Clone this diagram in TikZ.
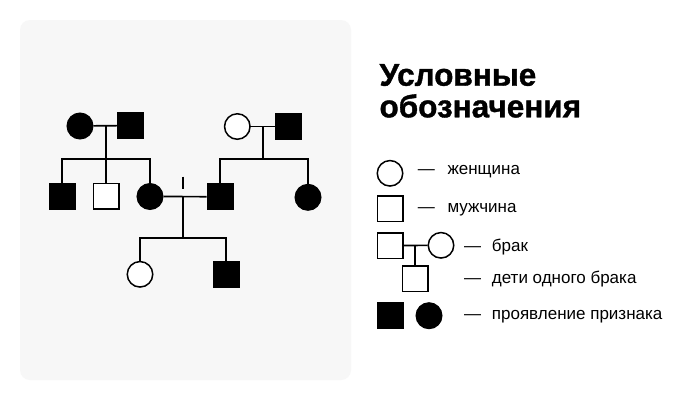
\documentclass[tikz,border=0pt]{standalone}
\usepackage{fontspec}
\setmainfont{Liberation Sans}
\newfontfamily\heavyfont[FakeBold=1.2]{Liberation Sans Bold}
\begin{document}
\begin{tikzpicture}[x=1pt,y=-1pt,
  ln/.style={line width=1.7pt,black},
  fem/.style={circle,draw=black,line width=1.5pt,fill=white,minimum size=25.5pt,inner sep=0pt},
  mal/.style={rectangle,draw=black,line width=1.5pt,fill=white,minimum size=25.5pt,inner sep=0pt},
  aff/.style={fill=black},
  lbl/.style={anchor=base west,inner sep=0pt,font=\fontsize{17}{20}\selectfont},
  ttl/.style={anchor=base west,inner sep=0pt,font=\fontsize{31.5}{32}\heavyfont}]
\useasboundingbox (0,0) rectangle (700,400);
\fill[white] (0,0) rectangle (700,400);
\fill[fill={rgb,255:red,247;green,247;blue,247},rounded corners=10pt] (20,20) rectangle (351,380);

% generation 1
\node[fem,aff] (f1) at (80,126) {};
\node[mal,aff] (m1) at (130.7,125.5) {};
\node[fem] (f2) at (237.3,126.5) {};
\node[mal,aff] (m2) at (288.5,126.5) {};
\coordinate (c1) at (106,126);
\coordinate (c2) at (263.3,126.5);
\coordinate (s1) at (106,159);
\coordinate (s2) at (263.3,159.3);

% generation 2
\node[mal,aff] (a1) at (62.3,196.3) {};
\node[mal] (a2) at (106,196.3) {};
\node[fem,aff] (a3) at (150,196.5) {};
\node[mal,aff] (b1) at (220,196.7) {};
\node[fem,aff] (b2) at (308,197.3) {};
\coordinate (c3) at (183.3,196.5);
\coordinate (t1) at (183.3,176.7);
\coordinate (t2) at (183.3,189.3);
\coordinate (s3) at (183.3,238);

% generation 3
\node[fem] (g1) at (140,274.3) {};
\node[mal,aff] (g2) at (226,274.3) {};

\draw[ln] (f1) -- (m1);
\draw[ln] (c1) -- (s1);
\draw[ln] (a1.north) |- (s1) -| (a3.north);
\draw[ln] (s1) -- (a2.north);
\draw[ln] (f2) -- (m2);
\draw[ln] (c2) -- (s2);
\draw[ln] (b1.north) |- (s2) -| (b2.north);
\draw[ln] (a3) -- (b1);
\draw[ln] (t1) -- (t2);
\draw[ln] (c3) -- (s3);
\draw[ln] (g1.north) |- (s3) -| (g2.north);

% legend
\node[ttl] (title1) at (379.3,85.7) {Условные};
\node[ttl] (title2) at (379.3,117.3) {обозначения};

\node[fem] (lf) at (390,173.3) {};
\node[lbl] (lt1) at (417.7,174.3) {—\hspace{12.6pt}женщина};
\node[mal] (lm) at (390,208.7) {};
\node[lbl] (lt2) at (417.7,212.5) {—\hspace{12.6pt}мужчина};
\node[mal] (lm2) at (390,245.5) {};
\node[fem] (lf2) at (441,245.3) {};
\coordinate (lc) at (415.3,245.3);
\node[mal] (lch) at (415.3,278.8) {};
\draw[ln] (lm2) -- (lf2);
\draw[ln] (lc) -- (lch.north);
\node[lbl] (lt3) at (464,251) {—\hspace{10.7pt}брак};
\node[lbl] (lt4) at (464,283.8) {—\hspace{10.7pt}дети одного брака};
\node[mal,aff] (lam) at (390,315.5) {};
\node[fem,aff] (laf) at (429,315.7) {};
\node[lbl] (lt5) at (464,319.8) {—\hspace{10.7pt}проявление признака};
\end{tikzpicture}
\end{document}
